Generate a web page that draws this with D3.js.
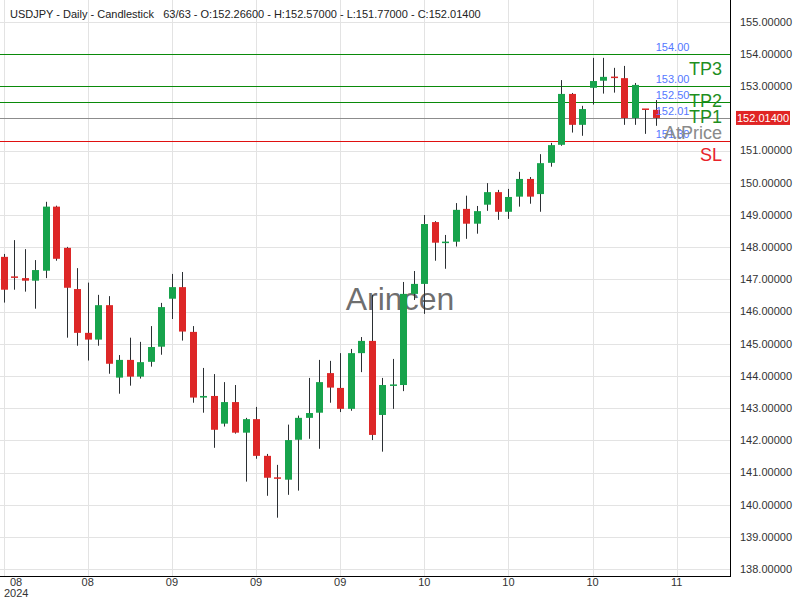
<!DOCTYPE html>
<html><head><meta charset="utf-8">
<script src="https://cdn.jsdelivr.net/npm/d3@7"></script>
<style>body{margin:0;background:#fff}svg{display:block}</style>
</head><body><svg id="c" width="800" height="600"></svg>
<script>
const symbol = "USDJPY";
const period = "Daily";
const chartType = "Candlestick";
const openV  = [147.70,147.08,147.04,146.96,147.27,149.26,147.98,146.70,145.34,145.13,146.20,143.95,144.50,143.98,144.44,144.91,146.40,146.76,145.37,143.33,143.38,142.52,143.19,142.24,142.66,141.52,140.84,140.78,142.02,142.70,142.86,144.09,143.63,142.98,144.71,145.09,142.79,143.70,143.72,146.55,146.86,148.78,148.14,148.17,149.19,148.73,149.32,149.71,149.10,149.57,150.12,149.65,150.62,151.18,152.76,151.80,152.95,153.17,153.28,153.25,152.01,152.29,152.266];
const highV  = [147.79,148.22,147.94,147.60,149.41,149.29,148.01,147.35,146.90,146.52,146.48,144.65,145.19,145.06,145.55,146.27,147.17,147.23,145.55,144.25,144.06,143.81,143.72,142.70,143.04,141.58,141.24,142.49,142.77,143.94,144.50,144.47,144.71,144.84,145.21,146.52,143.94,144.53,146.92,147.26,149.00,148.81,148.38,149.37,149.60,149.28,149.99,149.78,149.81,150.34,150.18,150.89,151.24,153.19,152.79,152.39,153.88,153.88,153.57,153.63,153.10,152.29,152.57];
const lowV   = [146.28,146.68,146.62,146.09,147.04,147.58,145.19,144.94,144.48,144.94,144.07,143.45,143.70,143.92,144.29,144.66,145.77,145.10,143.17,142.86,141.77,142.43,142.21,140.72,141.43,140.28,139.60,140.31,140.44,142.05,141.74,143.17,142.88,142.92,144.12,142.01,141.65,142.98,143.53,146.36,145.93,147.58,147.33,148.02,148.26,148.42,149.13,148.85,148.88,149.26,149.35,149.10,150.50,151.15,151.56,151.46,152.43,152.77,152.80,151.80,151.80,151.52,151.77];
const closeV = [146.68,147.06,146.96,147.29,149.26,147.64,146.74,145.34,145.13,146.20,144.38,144.50,143.98,144.43,144.90,146.14,146.76,145.38,143.33,143.38,142.33,143.19,142.24,142.66,141.52,140.84,140.82,142.01,142.70,142.85,143.81,143.64,142.98,144.71,145.09,142.17,143.72,143.73,146.55,146.86,148.72,148.14,148.16,149.16,148.73,149.12,149.71,149.10,149.56,150.12,149.57,150.61,151.17,152.76,151.80,152.29,153.16,153.29,153.27,152.01,153.04,152.28,152.014];

const xTickIndex  = [0,8,16,24,32,40,48,56,64];
const xTickLabels = ["08","08","09","09","09","10","10","10","11"];
const yearLabel = "2024";
const yTicks = d3.range(138,156,1);

const levelNames  = ["TP3","TP2","TP1","AtPrice","SL"];
const levelValues = [154.00,153.00,152.50,152.01,151.30];
const levelTexts  = ["154.00","153.00","152.50","152.01","151.30"];
const levelColors = ["#0a8a0a","#0a8a0a","#0a8a0a","#8c8c8c","#e01010"];
const labelColors = ["#1f8f1f","#1f8f1f","#1f8f1f","#8a8a8a","#e8222a"];

const W = 800, H = 600, plotR = 730, plotB = 576;
const svg = d3.select("#c");
const FONT = "'Liberation Sans', Arial, sans-serif";
const NARROW = "'Liberation Sans Narrow', 'Liberation Sans', Arial, sans-serif";

const x = d3.scaleLinear().domain([-0.342, 69.06]).range([0, plotR]);
const y = d3.scaleLinear().domain([138, 155]).range([569.2, 21.8]);
const px = v => Math.round(x(v)) + 0.5;

svg.append("rect").attr("width",W).attr("height",H).attr("fill","#fff");

// grid
const grid = svg.append("g");
grid.selectAll("line.h").data(yTicks).join("line")
  .attr("x1",0).attr("x2",plotR)
  .attr("y1",d=>Math.round(y(d))+0.5).attr("y2",d=>Math.round(y(d))+0.5)
  .attr("stroke","#e3e3e3").attr("stroke-width",1);
grid.selectAll("line.v").data(xTickIndex).join("line")
  .attr("x1",d=>px(d)).attr("x2",d=>px(d))
  .attr("y1",0).attr("y2",plotB)
  .attr("stroke","#e3e3e3").attr("stroke-width",1);

// watermark
svg.append("text").attr("x",400).attr("y",310).attr("text-anchor","middle")
  .attr("font-family",FONT).attr("font-size",32).attr("fill","#555").attr("fill-opacity",0.85)
  .text("Arincen");

// level lines
svg.append("g").selectAll("line").data(levelValues).join("line")
  .attr("x1",0).attr("x2",plotR)
  .attr("y1",d=>Math.round(y(d))+0.5).attr("y2",d=>Math.round(y(d))+0.5)
  .attr("stroke",(d,i)=>levelColors[i]).attr("stroke-width",1);

// candles
const idx = d3.range(openV.length);
const up = "#17a34c", down = "#dd2727", wick = "#2b2f33";
const bw = 7;
const cg = svg.append("g");
cg.selectAll("line").data(idx).join("line")
  .attr("x1",i=>px(i)).attr("x2",i=>px(i))
  .attr("y1",i=>y(highV[i])).attr("y2",i=>y(lowV[i]))
  .attr("stroke",wick).attr("stroke-width",1);
cg.selectAll("rect").data(idx).join("rect")
  .attr("x",i=>Math.round(x(i))-3)
  .attr("width",bw)
  .attr("y",i=>{const t=y(Math.max(openV[i],closeV[i])), b=y(Math.min(openV[i],closeV[i])); return (b-t)<1.5 ? (t+b)/2-0.75 : t;})
  .attr("height",i=>Math.max(1.5, y(Math.min(openV[i],closeV[i]))-y(Math.max(openV[i],closeV[i]))))
  .attr("fill",i=>closeV[i]>=openV[i]?up:down);

// blue level value labels
svg.append("g").selectAll("text").data(levelValues).join("text")
  .attr("x",x(openV.length-1)).attr("y",d=>y(d)-3)
  .attr("font-family",FONT).attr("font-size",11).attr("fill","#5577ff")
  .text((d,i)=>levelTexts[i]);

// level name labels
svg.append("g").selectAll("text").data(levelValues).join("text")
  .attr("x",722).attr("y",d=>y(d)+20.5).attr("text-anchor","end")
  .attr("font-family",FONT).attr("font-size",18).attr("fill",(d,i)=>labelColors[i])
  .text((d,i)=>levelNames[i]);

// axes frame
svg.append("line").attr("x1",plotR+0.5).attr("x2",plotR+0.5).attr("y1",0).attr("y2",plotB+1).attr("stroke","#000").attr("stroke-width",1);
svg.append("line").attr("x1",0).attr("x2",plotR+1).attr("y1",plotB+0.5).attr("y2",plotB+0.5).attr("stroke","#000").attr("stroke-width",1);

// right axis labels (the one hidden behind the current-price box is skipped)
const last = closeV[closeV.length-1];
svg.append("g").selectAll("text").data(yTicks.filter(d=>Math.abs(y(d)-y(last))>10)).join("text")
  .attr("x",740).attr("y",d=>y(d)).attr("dy","0.35em")
  .attr("font-family",FONT).attr("font-size",11).attr("fill","#333")
  .text(d=>d3.format(".5f")(d));

// current price box
svg.append("rect").attr("x",736).attr("y",y(last)-7).attr("width",54).attr("height",14).attr("fill","#e02424");
svg.append("text").attr("x",763).attr("y",y(last)).attr("dy","0.35em").attr("text-anchor","middle")
  .attr("font-family",FONT).attr("font-size",11).attr("fill","#fff").text(d3.format(".5f")(last));

// x axis labels
svg.append("g").selectAll("text").data(xTickIndex).join("text")
  .attr("x",(d,i)=> i===0 ? 16 : x(d)).attr("y",586).attr("text-anchor","middle")
  .attr("font-family",NARROW).attr("font-size",11).attr("fill","#333")
  .text((d,i)=>xTickLabels[i]);
svg.append("text").attr("x",4).attr("y",597)
  .attr("font-family",NARROW).attr("font-size",11).attr("fill","#333").text(yearLabel);

// title
const n = openV.length, f5 = d3.format(".5f");
svg.append("text").attr("x",10).attr("y",18).style("white-space","pre")
  .attr("font-family",FONT).attr("font-size",11).attr("fill","#222")
  .text(`${symbol} - ${period} - ${chartType}   ${n}/${n} - O:${f5(openV[n-1])} - H:${f5(highV[n-1])} - L:${f5(lowV[n-1])} - C:${f5(closeV[n-1])}`);
</script>
</body></html>
